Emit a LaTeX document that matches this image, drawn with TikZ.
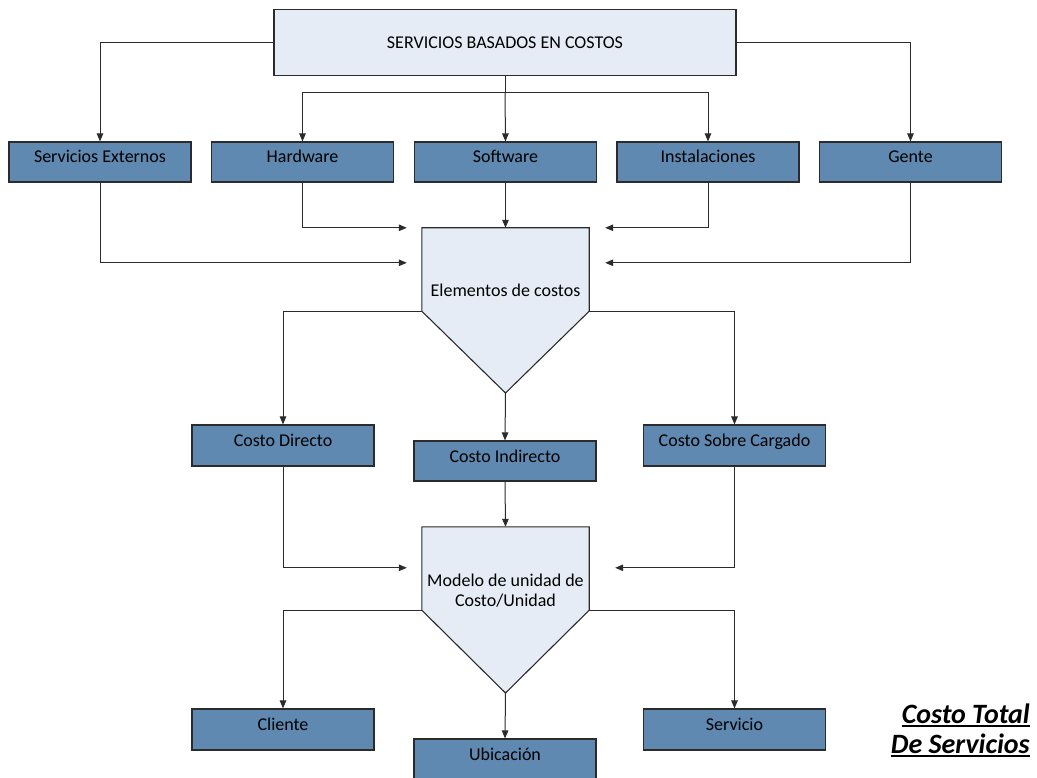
\documentclass[tikz,border=0pt]{standalone}
\usepackage{fontspec}
\setmainfont{Carlito}
\usetikzlibrary{arrows.meta,calc}
\definecolor{boxblue}{HTML}{5F89B0}
\definecolor{paleblue}{HTML}{E6ECF6}
\definecolor{edge}{HTML}{2B2B2B}
% heavy underline for the title lines
\newcommand{\titlerule}[1]{\setbox0\hbox{#1}\rlap{\rule[-3.5pt]{\wd0}{2pt}}\box0}
\tikzset{
  box/.style={draw=edge, line width=1.1pt, fill=boxblue, minimum width=182pt, minimum height=40pt,
    inner sep=0pt, font=\fontsize{18}{21}\selectfont, text height=13pt, text depth=11pt},
  headbox/.style={draw=edge, line width=1.1pt, fill=paleblue, minimum width=462pt, minimum height=66pt,
    inner sep=0pt, font=\fontsize{18}{21}\selectfont},
  pentop/.style={minimum width=167pt, minimum height=83pt, inner sep=0pt},
  pentagon/.style={draw=edge, line width=1.1pt, fill=paleblue, line join=miter},
  ptext/.style={font=\fontsize{18}{21}\selectfont, align=center, inner sep=0pt},
  link/.style={draw=edge, line width=1pt},
  arr/.style={link, -{Triangle[length=8pt,width=6.5pt]}}
}
\begin{document}
\begin{tikzpicture}[x=1pt,y=-1pt]
\useasboundingbox (0,0) rectangle (1037,778);

% header
\node[headbox] (top) at (505,42.5) {SERVICIOS BASADOS EN COSTOS};

% first row of resources
\node[box] (se)   at (100,162)   {Servicios Externos};
\node[box] (hw)   at (302.5,162) {Hardware};
\node[box] (sw)   at (505.5,162) {Software};
\node[box] (inst) at (708,162)   {Instalaciones};
\node[box] (gen)  at (910.5,162) {Gente};

% cost elements funnel
\node[pentop] (elem) at (505.5,269.5) {};
\coordinate (elemtip) at (505.5,393);
\path[pentagon] (elem.north west) -- (elem.north east) -- (elem.south east) -- (elemtip) -- (elem.south west) -- cycle;
\node[ptext] (elemtxt) at (505.5,290) {Elementos de costos};

% cost types
\node[box, minimum height=41pt] (cd)  at (283,445.5) {Costo Directo};
\node[box] (ci)  at (505,461)   {Costo Indirecto};
\node[box, minimum height=41pt] (csc) at (734.5,445.5) {Costo Sobre Cargado};

% unit cost model funnel
\node[pentop] (mod) at (505.5,568.5) {};
\coordinate (modtip) at (505.5,693);
\path[pentagon] (mod.north west) -- (mod.north east) -- (mod.south east) -- (modtip) -- (mod.south west) -- cycle;
\node[ptext] (modtxt) at (505.5,590.5) {Modelo de unidad de\\[-1pt]Costo/Unidad};

% allocation targets
\node[box, minimum height=41pt] (cli)  at (283,729.5)   {Cliente};
\node[box] (ubi)  at (505,759)     {Ubicación};
\node[box, minimum height=41pt] (serv) at (734.5,729.5) {Servicio};

% title
\node[anchor=north east, align=right, inner sep=0pt,
      font=\fontsize{28}{30}\selectfont\bfseries\itshape] (title) at (1030,703.5)
  {\titlerule{Costo Total}\\\titlerule{De Servicios}};

% header to resources
\draw[arr] (top.west) -| (se.north);
\draw[arr] (top.east) -| (gen.north);
\coordinate (hub) at (505,93);
\draw[link] (top.south) -- (hub);
\draw[arr] (hub) -| (hw.north);
\draw[arr] (hub) -| (inst.north);
\draw[arr] (hub) -- (sw.north);

% resources to cost elements
\coordinate (inL1) at ($(elem.north west)+(-15,0)$);
\coordinate (inL2) at ($(elem.north west)+(-15,35)$);
\coordinate (inR1) at ($(elem.north east)+(16,0)$);
\coordinate (inR2) at ($(elem.north east)+(16,35)$);
\draw[arr] (hw.south) |- (inL1);
\draw[arr] (se.south) |- (inL2);
\draw[arr] (inst.south) |- (inR1);
\draw[arr] (gen.south) |- (inR2);
\draw[arr] (sw.south) -- (elem.north);

% cost elements to cost types
\draw[arr] (elem.south west) -| (cd.north);
\draw[arr] (elem.south east) -| (csc.north);
\draw[arr] (elemtip) -- (ci.north);

% cost types to unit cost model
\coordinate (mL) at ($(mod.north west)+(-15,41)$);
\coordinate (mR) at ($(mod.north east)+(26,41)$);
\draw[arr] (cd.south) |- (mL);
\draw[arr] (csc.south) |- (mR);
\draw[arr] (ci.south) -- (mod.north);

% unit cost model to targets
\draw[arr] (mod.south west) -| (cli.north);
\draw[arr] (mod.south east) -| (serv.north);
\draw[arr] (modtip) -- (ubi.north);
\end{tikzpicture}
\end{document}
